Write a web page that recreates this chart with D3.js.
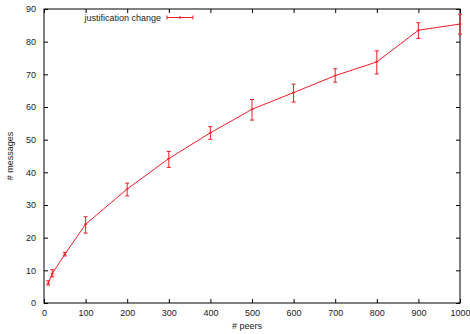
<!DOCTYPE html>
<html>
<head>
<meta charset="utf-8">
<script src="https://cdn.jsdelivr.net/npm/d3@7"></script>
<style>
  body { margin: 0; background: #fff; }
  text { font-family: "Liberation Sans", Arial, sans-serif; }
</style>
</head>
<body>
<div id="chart"></div>
<script>
// data
const peers = [10, 20, 50, 100, 200, 300, 400, 500, 600, 700, 800, 900, 1000];
const messages = [6.0, 9.0, 14.9, 24.1, 34.9, 44.2, 52.1, 59.3, 64.4, 69.6, 73.8, 83.5, 85.4];
const errLow = [5.5, 8.0, 14.4, 21.4, 32.8, 41.5, 50.1, 56.0, 61.5, 67.6, 70.1, 81.0, 82.3];
const errHigh = [6.8, 10.2, 15.5, 26.4, 36.7, 46.4, 54.0, 62.3, 67.0, 71.7, 77.2, 85.8, 88.4];
const xTicks = [0, 100, 200, 300, 400, 500, 600, 700, 800, 900, 1000];
const yTicks = [0, 10, 20, 30, 40, 50, 60, 70, 80, 90];

const width = 470, height = 334;
const margin = {left: 44, right: 10, top: 9, bottom: 31};
const red = '#ee1c25';

const svg = d3.select('#chart').append('svg')
    .attr('width', width)
    .attr('height', height);

const x = d3.scaleLinear().domain([0, 1000]).range([margin.left, width - margin.right]);
const y = d3.scaleLinear().domain([0, 90]).range([height - margin.bottom, margin.top]);

// frame
svg.append('rect')
    .attr('x', x(0))
    .attr('y', y(90))
    .attr('width', x(1000) - x(0))
    .attr('height', y(0) - y(90))
    .attr('fill', 'none')
    .attr('stroke', '#000')
    .attr('stroke-width', 1);

// axes with inward ticks
const tickLen = 4;
svg.append('g')
    .attr('transform', `translate(0,${y(0)})`)
    .call(d3.axisBottom(x).tickValues(xTicks).tickFormat(d3.format('d'))
        .tickSizeInner(-tickLen).tickSizeOuter(0).tickPadding(7))
    .call(g => g.select('.domain').remove());
svg.append('g')
    .attr('transform', `translate(0,${y(90)})`)
    .call(d3.axisTop(x).tickValues(xTicks).tickSizeInner(-tickLen).tickSizeOuter(0).tickFormat(''))
    .call(g => g.select('.domain').remove());
svg.append('g')
    .attr('transform', `translate(${x(0)},0)`)
    .call(d3.axisLeft(y).tickValues(yTicks).tickSizeInner(-tickLen).tickSizeOuter(0).tickPadding(8))
    .call(g => g.select('.domain').remove());
svg.append('g')
    .attr('transform', `translate(${x(1000)},0)`)
    .call(d3.axisRight(y).tickValues(yTicks).tickSizeInner(-tickLen).tickSizeOuter(0).tickFormat(''))
    .call(g => g.select('.domain').remove());

svg.selectAll('.tick text')
    .attr('font-family', '"Liberation Sans", Arial, sans-serif')
    .attr('font-size', 9)
    .attr('fill', '#222');
svg.selectAll('.tick line').attr('stroke', '#000');

// axis labels
svg.append('text')
    .attr('x', 247)
    .attr('y', 329)
    .attr('text-anchor', 'middle')
    .attr('font-size', 9)
    .attr('fill', '#222')
    .text('# peers');

svg.append('text')
    .attr('transform', `translate(13,${(y(0) + y(90)) / 2}) rotate(-90)`)
    .attr('text-anchor', 'middle')
    .attr('font-size', 9)
    .attr('fill', '#222')
    .text('# messages');

// series
const pts = peers.map((p, i) => ({p, m: messages[i], lo: errLow[i], hi: errHigh[i]}));

svg.append('path')
    .datum(pts)
    .attr('fill', 'none')
    .attr('stroke', red)
    .attr('stroke-width', 1)
    .attr('d', d3.line().x(d => x(d.p)).y(d => y(d.m)));

const cap = 2;
const eb = svg.append('g').attr('stroke', red).attr('stroke-width', 1);
pts.forEach(d => {
    eb.append('line')
        .attr('x1', x(d.p)).attr('x2', x(d.p))
        .attr('y1', y(d.lo)).attr('y2', y(d.hi));
    eb.append('line')
        .attr('x1', x(d.p) - cap).attr('x2', x(d.p) + cap)
        .attr('y1', y(d.lo)).attr('y2', y(d.lo));
    eb.append('line')
        .attr('x1', x(d.p) - cap).attr('x2', x(d.p) + cap)
        .attr('y1', y(d.hi)).attr('y2', y(d.hi));
    eb.append('line')
        .attr('x1', x(d.p) - 1.5).attr('x2', x(d.p) + 1.5)
        .attr('y1', y(d.m)).attr('y2', y(d.m));
});

// legend
const lg = svg.append('g');
lg.append('text')
    .attr('x', 161)
    .attr('y', 20.5)
    .attr('text-anchor', 'end')
    .attr('font-size', 9)
    .attr('fill', '#222')
    .text('justification change');
lg.append('line')
    .attr('x1', 167).attr('x2', 193)
    .attr('y1', 17.5).attr('y2', 17.5)
    .attr('stroke', red);
[167, 193].forEach(xx => {
    lg.append('line')
        .attr('x1', xx).attr('x2', xx)
        .attr('y1', 15.5).attr('y2', 19.5)
        .attr('stroke', red);
});
lg.append('line')
    .attr('x1', 180).attr('x2', 180)
    .attr('y1', 16).attr('y2', 19)
    .attr('stroke', red);
</script>
</body>
</html>
